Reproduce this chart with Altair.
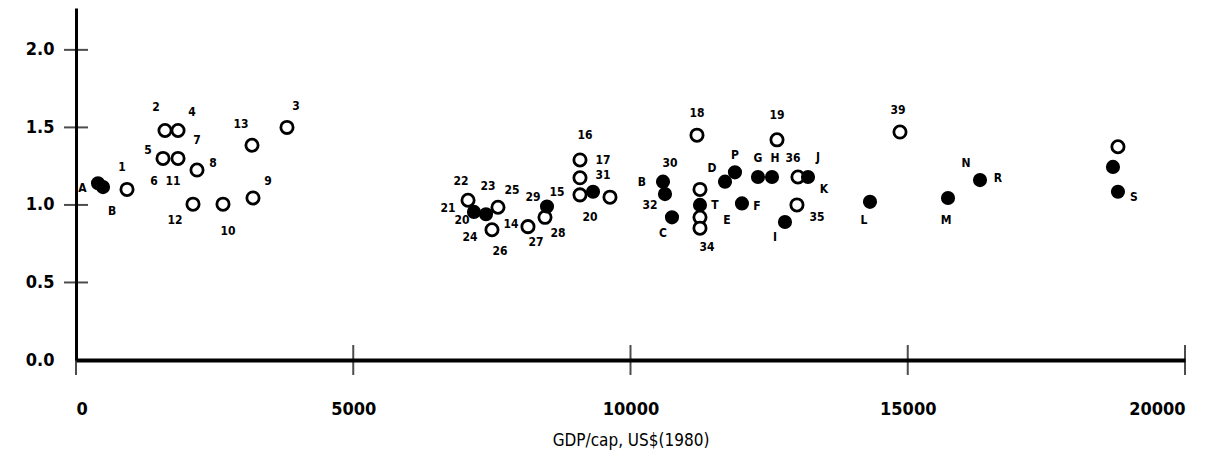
import altair as alt
import pandas as pd

# ---- data ----
# filled circles
filled_x = [397, 487, 7177, 7394, 8494, 9324, 10586, 10622, 10748, 11253, 11704, 11884,
            12010, 12299, 12552, 13201, 12786, 14319, 15726, 16303, 18701, 18791]
filled_y = [1.14, 1.115, 0.955, 0.94, 0.99, 1.085, 1.15, 1.07, 0.92, 1.0, 1.15, 1.21,
            1.01, 1.18, 1.18, 1.18, 0.89, 1.02, 1.045, 1.16, 1.245, 1.085]
# open circles
open_x = [920, 1605, 1840, 1569, 1840, 2182, 2110, 2651, 3192, 3174, 3805,
          7070, 7610, 7502, 8151, 8458, 9089, 9089, 9089, 9630,
          11199, 11253, 11253, 11253, 12642, 13020, 13002, 14860, 18791]
open_y = [1.10, 1.48, 1.48, 1.30, 1.30, 1.225, 1.005, 1.005, 1.045, 1.385, 1.50,
          1.03, 0.985, 0.84, 0.86, 0.92, 1.29, 1.175, 1.065, 1.05,
          1.45, 1.10, 0.92, 0.85, 1.42, 1.18, 1.00, 1.47, 1.375]
# point labels (text and where it sits, in data units)
label_text = ["A", "B", "1", "2", "4", "7", "5", "8", "6", "11", "12", "10", "9", "13", "3",
              "22", "23", "25", "21", "20", "24", "26", "14", "27", "29", "15", "28",
              "16", "17", "31", "20",
              "18", "19", "30", "B", "32", "C", "T", "34", "D", "P", "E", "F", "G", "H",
              "36", "J", "K", "35", "I", "L", "39", "M", "N", "R", "S"]
label_x = [115, 650, 830, 1443, 2092, 2182, 1298, 2470, 1407, 1749, 1785, 2741, 3463, 2976, 3967,
           6943, 7430, 7863, 6709, 6961, 7105, 7646, 7845, 8296, 8242, 8674, 8692,
           9179, 9503, 9503, 9270,
           11199, 12642, 10713, 10207, 10351, 10586, 11524, 11379, 11469, 11884, 11740, 12281,
           12299, 12606,
           12931, 13381, 13490, 13363, 12606, 14211, 14824, 15690, 16051, 16628, 19079]
label_y = [1.11, 0.96, 1.245, 1.63, 1.60, 1.42, 1.355, 1.27, 1.155, 1.155, 0.90, 0.83, 1.155,
           1.52, 1.64,
           1.155, 1.12, 1.095, 0.98, 0.90, 0.79, 0.70, 0.88, 0.76, 1.05, 1.085, 0.82,
           1.45, 1.29, 1.19, 0.92,
           1.59, 1.58, 1.27, 1.15, 1.0, 0.82, 1.0, 0.73, 1.24, 1.32, 0.90, 0.99, 1.305, 1.305,
           1.305, 1.31, 1.10, 0.92, 0.79, 0.90, 1.61, 0.90, 1.27, 1.175, 1.05]

x_ticks = [0, 5000, 10000, 15000, 20000]
y_ticks = [0.0, 0.5, 1.0, 1.5, 2.0]

FONT = "DejaVu Sans Condensed"

pts = pd.concat([
    pd.DataFrame({"gdp": filled_x, "v": filled_y, "kind": "filled"}),
    pd.DataFrame({"gdp": open_x, "v": open_y, "kind": "open"}),
])
labels = pd.DataFrame({"gdp": label_x, "v": label_y, "t": label_text})
xt = pd.DataFrame({"gdp": x_ticks, "v": [0.0] * len(x_ticks)})
yt = pd.DataFrame({"gdp": [0] * 4, "v": y_ticks[1:]})

xscale = alt.Scale(domain=[0, 20000], nice=False, zero=False)
yscale = alt.Scale(domain=[0, 2.27], nice=False, zero=False)

xaxis = alt.Axis(values=x_ticks, format="d", tickSize=0, labelPadding=40, labelFontSize=18,
                 labelFont=FONT, labelFontWeight="bold", labelColor="black",
                 domainColor="black", domainWidth=4, grid=False,
                 title="GDP/cap, US$(1980)", titleFont=FONT, titleFontSize=17,
                 titleFontWeight="normal", titleColor="black", titlePadding=14)
yaxis = alt.Axis(values=y_ticks, format=".1f", tickSize=0, labelPadding=22, labelFontSize=18,
                 labelFont=FONT, labelFontWeight="bold", labelColor="black",
                 domainColor="black", domainWidth=3, grid=False, title=None)

base_x = alt.X("gdp:Q", scale=xscale, axis=xaxis)
base_y = alt.Y("v:Q", scale=yscale, axis=yaxis)

filled = alt.Chart(pts[pts.kind == "filled"]).mark_point(
    shape="circle", filled=True, size=200, color="black", opacity=1
).encode(x=base_x, y=base_y)

opened = alt.Chart(pts[pts.kind == "open"]).mark_point(
    shape="circle", filled=True, size=150, fill="white", stroke="black", strokeWidth=2.8, opacity=1
).encode(x=alt.X("gdp:Q", scale=xscale), y=alt.Y("v:Q", scale=yscale))

text = alt.Chart(labels).mark_text(
    font=FONT, fontSize=12, fontWeight="bold", color="black", align="center", baseline="middle"
).encode(x=alt.X("gdp:Q", scale=xscale), y=alt.Y("v:Q", scale=yscale), text="t:N")

xtick = alt.Chart(xt).mark_tick(orient="vertical", size=30, thickness=2, color="black").encode(
    x=alt.X("gdp:Q", scale=xscale), y=alt.Y("v:Q", scale=yscale))
ytick = alt.Chart(yt).mark_tick(orient="horizontal", size=24, thickness=2, color="black").encode(
    x=alt.X("gdp:Q", scale=xscale), y=alt.Y("v:Q", scale=yscale))

chart = alt.layer(xtick, ytick, opened, filled, text).properties(
    width=1109, height=352,
    padding={"left": 76, "top": 8, "right": 29, "bottom": 108},
    autosize=alt.AutoSizeParams(type="none"),
    background="white",
).configure_view(stroke=None)

chart.save("out.html", embed_options={"renderer": "svg", "actions": False})
